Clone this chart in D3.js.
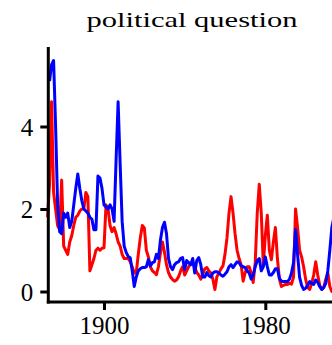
<!DOCTYPE html>
<html>
<head>
<meta charset="utf-8">
<script src="https://cdn.jsdelivr.net/npm/d3@7"></script>
<style>
  html, body { margin: 0; padding: 0; background: #fff; }
  svg { display: block; }
</style>
</head>
<body>
<svg id="chart" width="332" height="345"></svg>
<script>
const title = "political question";
const startYear = 1872;
const redValues = [
  1.8, 2.6, 4.6, 2.4, 2.0, 1.6, 1.5, 2.7, 1.1, 1.0,
  0.9, 1.2, 1.35, 1.6, 1.8, 1.85, 1.95, 2.0, 2.0, 2.4,
  2.3, 0.5, 0.65, 0.8, 1.0, 1.05, 1.0, 1.05, 1.06, 2.1,
  2.0, 1.6, 1.45, 1.55, 1.4, 1.2, 1.1, 0.9, 0.8, 0.8,
  0.8, 0.72, 0.6, 0.45, 0.45, 0.9, 1.3, 1.6, 1.54, 1.0,
  0.84, 0.6, 0.5, 0.46, 0.41, 0.6, 0.94, 1.2, 0.95, 0.65,
  0.46, 0.35, 0.29, 0.25, 0.28, 0.36, 0.5, 0.6, 0.4, 0.5,
  0.6, 0.68, 0.7, 0.6, 0.46, 0.4, 0.3, 0.42, 0.55, 0.58,
  0.5, 0.45, 0.3, 0.05, 0.36, 0.45, 0.55, 0.62, 0.9, 1.3,
  1.9, 2.3, 1.9, 1.4, 1.0, 0.8, 0.65, 0.25, 0.45, 0.6,
  0.6, 0.45, 0.22, 0.7, 1.9, 2.6, 1.9, 0.65, 1.35, 1.85,
  1.0, 0.77, 1.2, 1.55, 0.8, 0.3, 0.12, 0.15, 0.17, 0.17,
  0.2, 0.18, 0.35, 2.0, 1.55, 1.0, 0.84, 0.6, 0.3, 0.1,
  0.05, 0.2, 0.4, 0.72, 0.4, 0.15, 0.05, 0.1, 0.3, 0.45,
  0.12, 0.0, 0.1
];
const blueValues = [
  null, 5.1, 5.5, 5.6, 4.0, 2.1, 1.45, 1.4, 1.9, 1.8,
  1.9, 1.55, 1.7, 2.1, 2.5, 2.85, 2.5, 2.2, 2.0, 1.95,
  1.9, 1.8, 1.75, 1.5, 1.5, 2.8, 2.75, 2.5, 2.1, 2.05,
  2.0, 2.1, 2.0, 1.7, 3.2, 4.6, 3.1, 1.7, 1.1, 0.95,
  0.85, 0.82, 0.5, 0.12, 0.35, 0.5, 0.55, 0.58, 0.58, 0.6,
  0.77, 0.62, 0.7, 0.72, 0.9, 0.8, 1.25, 1.55, 1.68, 1.4,
  0.8, 0.6, 0.53, 0.65, 0.7, 0.72, 0.8, 0.82, 0.53, 0.75,
  0.7, 0.65, 0.8, 0.45, 0.75, 0.82, 0.65, 0.35, 0.35, 0.46,
  0.38, 0.35, 0.45, 0.48, 0.48, 0.45, 0.4, 0.37, 0.42, 0.48,
  0.6, 0.65, 0.58, 0.65, 0.72, 0.7, 0.62, 0.6, 0.58, 0.5,
  0.45, 0.3, 0.4, 0.6, 0.75, 0.8, 0.5, 0.6, 0.84, 0.6,
  0.4, 0.4, 0.46, 0.55, 0.55, 0.32, 0.25, 0.24, 0.24, 0.24,
  0.3, 0.45, 0.7, 1.5, 0.9, 0.35, 0.15, 0.05, 0.08, 0.15,
  0.24, 0.2, 0.17, 0.28, 0.22, 0.12, 0.05, 0.1, 0.2, 0.5,
  1.0, 1.55, 1.8
];
const years = redValues.map((_, i) => startYear + i);
const xTickValues = [1900, 1980];
const yTickValues = [0, 2, 4];

const svg = d3.select("#chart");
const x = d3.scaleLinear().domain([1900, 1980]).range([104, 265.3]);
const y = d3.scaleLinear().domain([0, 4]).range([291.5, 126.5]);
const yTop = 47, yBottom = 302;
const serifFont = "Liberation Serif";

svg.append("text")
  .attr("x", 192).attr("y", 27)
  .attr("text-anchor", "middle")
  .attr("textLength", 211)
  .attr("lengthAdjust", "spacingAndGlyphs")
  .style("font-family", serifFont)
  .style("font-size", "22px")
  .attr("fill", "#000")
  .text(title);

const line = d3.line()
  .defined(d => d[1] != null)
  .x(d => x(d[0]))
  .y(d => y(d[1]));

svg.append("path")
  .datum(years.map((yr, i) => [yr, redValues[i]]))
  .attr("d", line)
  .attr("fill", "none")
  .attr("stroke", "#ff0000")
  .attr("stroke-width", 3)
  .attr("stroke-linejoin", "round");

svg.append("path")
  .datum(years.map((yr, i) => [yr, blueValues[i]]))
  .attr("d", line)
  .attr("fill", "none")
  .attr("stroke", "#0000ff")
  .attr("stroke-width", 3)
  .attr("stroke-linejoin", "round");

// Y axis
const yAxis = svg.append("g").attr("transform", "translate(48.3,0)")
  .call(d3.axisLeft(y).tickValues(yTickValues).tickFormat(d3.format("d"))
    .tickSize(8).tickPadding(7).tickSizeOuter(0));
yAxis.attr("font-family", serifFont).attr("font-size", 25);
yAxis.select(".domain").remove();
yAxis.append("line").attr("x1", 0).attr("x2", 0).attr("y1", yTop).attr("y2", yBottom + 1.5)
  .attr("stroke", "#000").attr("stroke-width", 3);
yAxis.selectAll(".tick line").attr("stroke", "#000").attr("stroke-width", 3);
yAxis.selectAll(".tick text").attr("fill", "#000").attr("dy", "0.34em")
  .style("font-family", serifFont).style("font-size", "25px");

// X axis
const xAxis = svg.append("g").attr("transform", `translate(0,${yBottom})`)
  .call(d3.axisBottom(x).tickValues(xTickValues).tickFormat(d3.format("d"))
    .tickSize(8).tickPadding(6).tickSizeOuter(0));
xAxis.attr("font-family", serifFont).attr("font-size", 25);
xAxis.select(".domain").remove();
xAxis.append("line").attr("x1", 46.8).attr("x2", 340).attr("y1", 0).attr("y2", 0)
  .attr("stroke", "#000").attr("stroke-width", 3);
xAxis.selectAll(".tick line").attr("stroke", "#000").attr("stroke-width", 3);
xAxis.selectAll(".tick text").attr("fill", "#000")
  .style("font-family", serifFont).style("font-size", "25px");
</script>
</body>
</html>
